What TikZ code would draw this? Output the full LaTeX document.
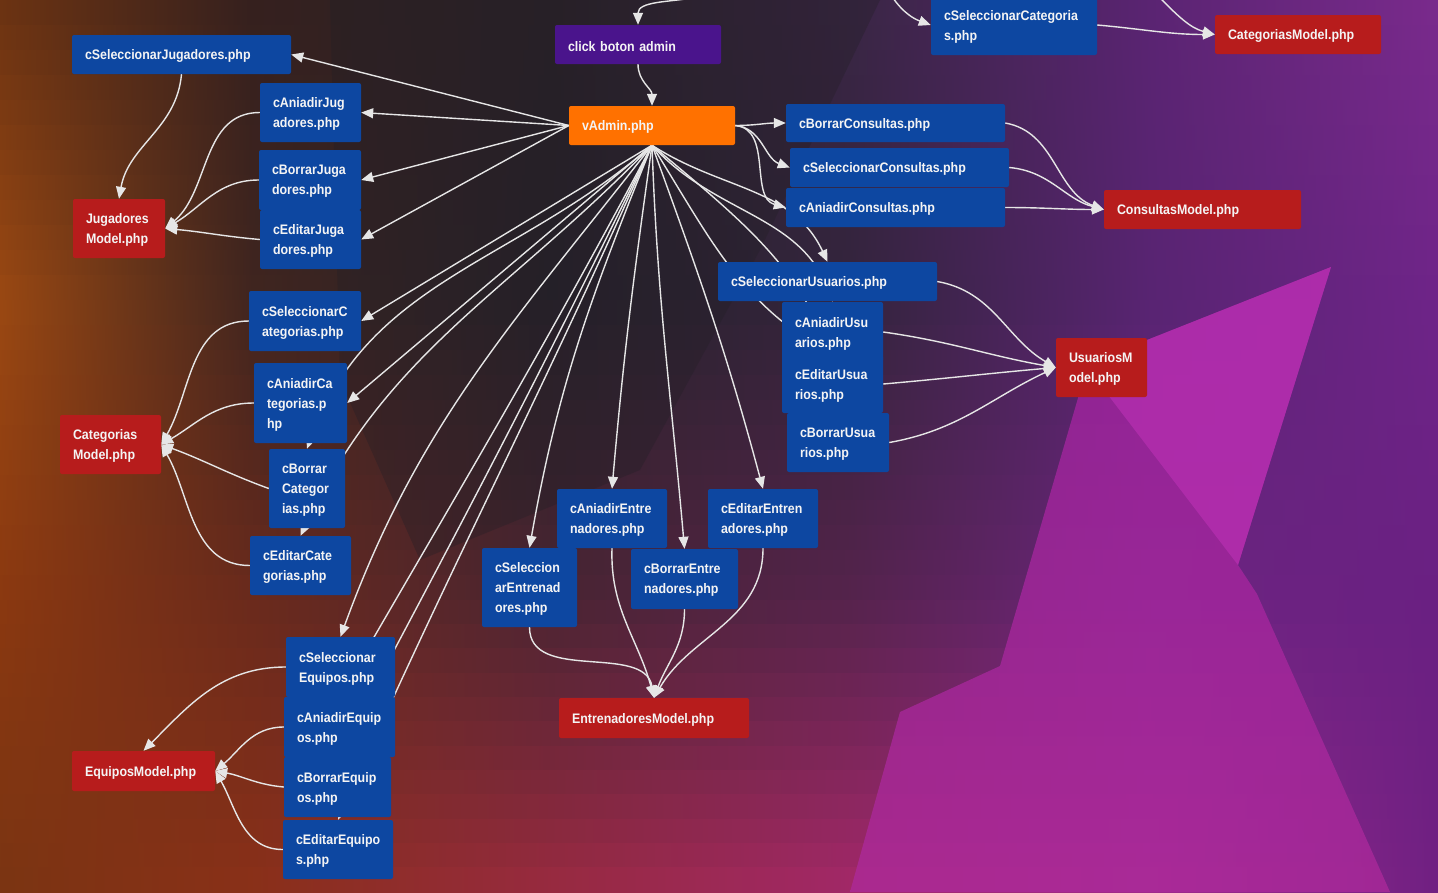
\documentclass[tikz,border=0pt]{standalone}
\usepackage{fontspec}
\setmainfont{Liberation Sans}[FakeStretch=0.9]
\usetikzlibrary{arrows.meta}
\hyphenpenalty=10000
\exhyphenpenalty=10000
\pgfdeclarelayer{bgl}\pgfdeclarelayer{edgel}\pgfsetlayers{bgl,edgel,main}
\definecolor{nblue}{HTML}{0D47A1}
\definecolor{nred}{HTML}{B71C1C}
\definecolor{norange}{HTML}{FF7100}
\definecolor{npurple}{HTML}{4A148C}
\definecolor{ntext}{HTML}{F4F4F4}
\definecolor{ecol}{HTML}{E6E6E6}
\definecolor{magM}{HTML}{A424A4}
\definecolor{magMb}{HTML}{AE2A9C}
\definecolor{magL}{HTML}{B830B2}
\definecolor{darkC}{HTML}{231F26}
% background colour grid: rows A (y=0), B (300), C (600), D (892)
\definecolor{A0}{HTML}{6A3212}\definecolor{A1}{HTML}{35201E}\definecolor{A2}{HTML}{2A2228}\definecolor{A3}{HTML}{3A2645}\definecolor{A4}{HTML}{5A2472}\definecolor{A5}{HTML}{7A2A8C}
\definecolor{B0}{HTML}{9A4812}\definecolor{B1}{HTML}{40251F}\definecolor{B2}{HTML}{26222A}\definecolor{B3}{HTML}{33243C}\definecolor{B4}{HTML}{582472}\definecolor{B5}{HTML}{6E2488}
\definecolor{C0}{HTML}{8A3810}\definecolor{C1}{HTML}{6A2A1C}\definecolor{C2}{HTML}{4A2432}\definecolor{C3}{HTML}{55234C}\definecolor{C4}{HTML}{6C2480}\definecolor{C5}{HTML}{6A2082}
\definecolor{D0}{HTML}{7A3412}\definecolor{D1}{HTML}{8A3018}\definecolor{D2}{HTML}{9A2A40}\definecolor{D3}{HTML}{A42868}\definecolor{D4}{HTML}{A02A8C}\definecolor{D5}{HTML}{702082}
\newcommand\nodefont{\fontsize{13.8}{20}\selectfont\bfseries}
\newcommand\nb[7]{%
  \pgfmathsetmacro\nbw{#5-#3}\pgfmathsetmacro\nbh{#6-#4}\pgfmathsetmacro\nbt{#5-#3-26}%
  \pgfmathsetmacro\nbx{(#3+#5)/2}\pgfmathsetmacro\nby{-(#4+#6)/2}\pgfmathsetmacro\nbyt{\nby-1.6}%
  \node[#2, minimum width=\nbw pt, minimum height=\nbh pt] (#1) at (\nbx,\nby) {};
  \node[lbl, text width=\nbt pt] (#1-l) at (\nbx,\nbyt) {#7};}
\begin{document}
\begin{tikzpicture}[x=1pt,y=1pt,
  box/.style={rounded corners=2pt, inner sep=0pt},
  lbl/.style={inner xsep=13pt, inner ysep=0pt, align=left, text=ntext, font=\nodefont},
  ctrl/.style={box, fill=nblue},
  model/.style={box, fill=nred},
  view/.style={box, fill=norange},
  evt/.style={box, fill=npurple},
  edge/.style={draw=ecol, line width=1.4pt, -{Triangle[length=12pt,width=10pt]}}]
\useasboundingbox (0,0) rectangle (1438,-892);
% ---------- background ----------
\begin{pgfonlayer}{bgl}
\def\colx{{0,250,550,850,1150,1438}}
\foreach \ii/\ra/\rb/\ya/\yb in {0/A/B/0/300,1/B/C/300/600,2/C/D/600/892}{
  \foreach \kk in {0,...,11}{
    \pgfmathsetmacro\ww{100-(\kk+0.5)*100/12}
    \pgfmathsetmacro\ytop{\ya+(\yb-\ya)*\kk/12}
    \pgfmathsetmacro\ybot{\ya+(\yb-\ya)*(\kk+1)/12+0.8}
    \foreach \cc in {0,...,4}{
      \pgfmathtruncatemacro\cn{\cc+1}
      \pgfmathsetmacro\xl{\colx[\cc]}
      \pgfmathsetmacro\xr{\colx[\cn]+0.8}
      \colorlet{cl}{\ra\cc!\ww!\rb\cc}
      \colorlet{cr}{\ra\cn!\ww!\rb\cn}
      \shade[left color=cl, right color=cr] (\xl,-\ytop) rectangle (\xr,-\ybot);
    }
  }
}
\shade[top color=magM, bottom color=magMb, opacity=0.75] (1331,-267) -- (1147,-340) -- (1085,-374) -- (1000,-666) -- (900,-712) -- (850,-892) -- (1390,-892) -- (1257,-594) -- (1238,-565) -- cycle;
\fill[magL, opacity=0.7] (1331,-267) -- (1147,-340) -- (1092,-374) -- (1238,-565) -- cycle;
\fill[darkC, opacity=0.35] (330,0) -- (880,0) -- (760,-250) -- (640,-470) -- (420,-560) -- (340,-380) -- cycle;
\end{pgfonlayer}
% ---------- nodes ----------
\nb{click}{evt}{555}{25}{721}{64}{click boton admin}
\nb{vadmin}{view}{569}{106}{735}{145}{vAdmin.php}
\nb{csj}{ctrl}{72}{35}{291}{74}{cSeleccionarJugadores.php}
\nb{caj}{ctrl}{260}{83}{361}{142}{cAniadirJug\\adores.php}
\nb{cbj}{ctrl}{259}{150}{361}{210}{cBorrarJuga\\dores.php}
\nb{cej}{ctrl}{260}{210}{361}{269}{cEditarJuga\\dores.php}
\nb{mj}{model}{73}{199}{165}{258}{Jugadores\\Model.php}
\nb{csc}{ctrl}{249}{291}{361}{351}{cSeleccionarC\\ategorias.php}
\nb{cac}{ctrl}{254}{363}{347}{443}{cAniadirCa\\tegorias.p\\hp}
\nb{cbc}{ctrl}{269}{449}{345}{528}{cBorrar\\Categor\\ias.php}
\nb{cec}{ctrl}{250}{536}{351}{595}{cEditarCate\\gorias.php}
\nb{mc}{model}{60}{415}{161}{474}{Categorias\\Model.php}
\nb{cse}{ctrl}{286}{637}{395}{697}{cSeleccionar\\Equipos.php}
\nb{cae}{ctrl}{284}{697}{395}{757}{cAniadirEquip\\os.php}
\nb{cbe}{ctrl}{284}{757}{391}{817}{cBorrarEquip\\os.php}
\nb{cee}{ctrl}{283}{820}{393}{879}{cEditarEquipo\\s.php}
\nb{me}{model}{72}{751}{215}{791}{EquiposModel.php}
\nb{csen}{ctrl}{482}{548}{577}{627}{cSeleccion\\arEntrenad\\ores.php}
\nb{caen}{ctrl}{557}{489}{667}{548}{cAniadirEntre\\nadores.php}
\nb{cben}{ctrl}{631}{549}{738}{609}{cBorrarEntre\\nadores.php}
\nb{ceen}{ctrl}{708}{489}{818}{548}{cEditarEntren\\adores.php}
\nb{men}{model}{559}{698}{749}{738}{EntrenadoresModel.php}
\nb{csu}{ctrl}{718}{262}{937}{301}{cSeleccionarUsuarios.php}
\nb{cau}{ctrl}{782}{302}{883}{362}{cAniadirUsu\\arios.php}
\nb{ceu}{ctrl}{782}{355}{883}{413}{cEditarUsua\\rios.php}
\nb{cbu}{ctrl}{787}{413}{889}{472}{cBorrarUsua\\rios.php}
\nb{mu}{model}{1056}{338}{1147}{397}{UsuariosM\\odel.php}
\nb{cbco}{ctrl}{786}{104}{1005}{142}{cBorrarConsultas.php}
\nb{csco}{ctrl}{790}{148}{1009}{187}{cSeleccionarConsultas.php}
\nb{caco}{ctrl}{786}{188}{1005}{227}{cAniadirConsultas.php}
\nb{mco}{model}{1104}{190}{1301}{229}{ConsultasModel.php}
\nb{csc2}{ctrl}{931}{-5}{1097}{55}{cSeleccionarCategoria\\s.php}
\nb{mc2}{model}{1215}{15}{1381}{54}{CategoriasModel.php}
\coordinate (offA) at (692,2);
\coordinate (offB) at (893,2);
\coordinate (offC) at (1160,2);
% ---------- edges ----------
\begin{pgfonlayer}{edgel}
\draw[edge] (offA) to[out=190,in=90] (click.north);
\draw[edge] (click.south) to[out=-90,in=90] (vadmin.north);
\draw[edge] (offB) to[out=-55,in=160] (csc2.west);
\draw[edge] (offC) to[out=-45,in=165] (mc2.west);
\draw[edge] (csc2.east) to[out=-5,in=180] (mc2.west);
% vAdmin west
\draw[edge] (vadmin.west) -- (csj.east);
\draw[edge] (vadmin.west) -- (caj.east);
\draw[edge] (vadmin.west) -- (cbj.east);
\draw[edge] (vadmin.west) -- (cej.east);
% vAdmin south fan
\draw[edge] (vadmin.south) -- (csc.east);
\draw[edge] (vadmin.south) -- (cac.east);
\draw[edge] (vadmin.south) to[out=-139,in=70] (cbc.north);
\draw[edge] (vadmin.south) to[out=-134,in=65] (cec.north);
\draw[edge] (vadmin.south) to[out=-128,in=70] (cse.north);
\draw[edge] (vadmin.south) to[out=-118,in=60] (cae.north);
\draw[edge] (vadmin.south) to[out=-116,in=62] (cbe.north);
\draw[edge] (vadmin.south) to[out=-114,in=66] (cee.north);
\draw[edge] (vadmin.south) to[out=-112,in=80] (csen.north);
\draw[edge] (vadmin.south) to[out=-98,in=85] (caen.north);
\draw[edge] (vadmin.south) to[out=-88,in=95] (cben.north);
\draw[edge] (vadmin.south) to[out=-70,in=105] (ceen.north);
\draw[edge] (vadmin.south) to[out=-33,in=115] (csu.north);
\draw[edge] (vadmin.south) to[out=-58,in=150] (ceu.north);
\draw[edge] (vadmin.south) to[out=-48,in=110] (cau.north);
\draw[edge] (vadmin.south) to[out=-40,in=95] (cbu.north);
% vAdmin east
\draw[edge] (vadmin.east) to[out=0,in=180] (cbco.west);
\draw[edge] (vadmin.east) to[out=-5,in=160] (csco.west);
\draw[edge] (vadmin.east) to[out=-5,in=165] (caco.west);
% consultas
\draw[edge] (cbco.east) to[out=-10,in=160] (mco.west);
\draw[edge] (csco.east) to[out=-5,in=165] (mco.west);
\draw[edge] (caco.east) to[out=0,in=180] (mco.west);
% usuarios
\draw[edge] (csu.east) to[out=-10,in=150] (mu.west);
\draw[edge] (cau.east) to[out=-8,in=170] (mu.west);
\draw[edge] (ceu.east) to[out=5,in=185] (mu.west);
\draw[edge] (cbu.east) to[out=10,in=205] (mu.west);
% entrenadores
\draw[edge] (csen.south) to[out=-90,in=100] (men.north);
\draw[edge] (caen.south) to[out=-92,in=105] (men.north);
\draw[edge] (cben.south) to[out=-90,in=70] (men.north);
\draw[edge] (ceen.south) to[out=-90,in=60] (men.north);
% jugadores
\draw[edge] (csj.south) to[out=-95,in=80] (mj.north);
\draw[edge] (caj.west) to[out=180,in=40] (mj.east);
\draw[edge] (cbj.west) to[out=180,in=30] (mj.east);
\draw[edge] (cej.west) to[out=175,in=-5] (mj.east);
% categorias
\draw[edge] (csc.west) to[out=180,in=60] (mc.east);
\draw[edge] (cac.west) to[out=180,in=30] (mc.east);
\draw[edge] (cbc.west) to[out=160,in=-20] (mc.east);
\draw[edge] (cec.west) to[out=180,in=-60] (mc.east);
% equipos
\draw[edge] (cse.west) to[out=180,in=45] (me.north);
\draw[edge] (cae.west) to[out=180,in=40] (me.east);
\draw[edge] (cbe.west) to[out=175,in=-10] (me.east);
\draw[edge] (cee.west) to[out=180,in=-60] (me.east);
\end{pgfonlayer}
\end{tikzpicture}
\end{document}
